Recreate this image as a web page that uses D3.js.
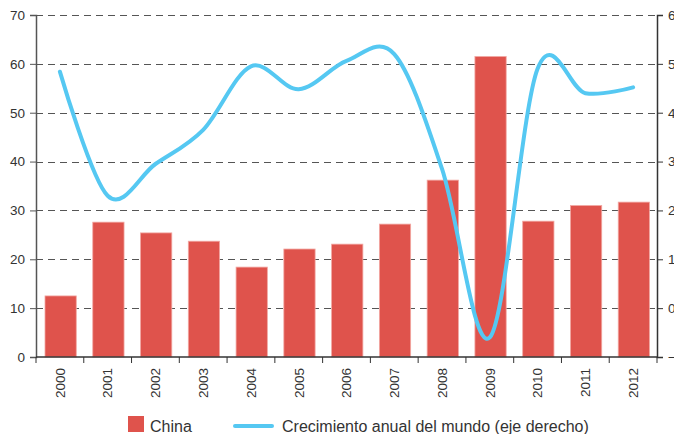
<!DOCTYPE html>
<html>
<head>
<meta charset="utf-8">
<script src="https://cdn.jsdelivr.net/npm/d3@7"></script>
<style>
  body { margin: 0; background: #fff; }
  svg { display: block; font-family: "Liberation Sans", Arial, sans-serif; }
</style>
</head>
<body>
<div id="chart"></div>
<script>
// Chart data
const years = ['2000', '2001', '2002', '2003', '2004', '2005', '2006',
  '2007', '2008', '2009', '2010', '2011', '2012'];
const chinaValues = [12.5, 27.6, 25.4, 23.7, 18.4, 22.1, 23.1, 27.2, 36.2, 61.5, 27.8, 31.0, 31.7];
const worldGrowth = [4.84, 2.3, 2.95, 3.65, 4.95, 4.48, 5.06, 5.2, 2.85, -0.6, 4.9, 4.4, 4.52];
const leftTicks = [0, 10, 20, 30, 40, 50, 60, 70];
const rightTicks = [-1, 0, 1, 2, 3, 4, 5, 6];
const legendLabels = ['China', 'Crecimiento anual del mundo (eje derecho)'];

const width = 674, height = 434;
const margin = { top: 15, right: 17, bottom: 77, left: 36 };
const innerW = width - margin.left - margin.right;
const innerH = height - margin.top - margin.bottom;

const svg = d3.select('#chart').append('svg')
  .attr('width', width)
  .attr('height', height);
const g = svg.append('g')
  .attr('transform', `translate(${margin.left},${margin.top})`);

// Scales
const x = d3.scaleBand().domain(years).range([0, innerW]).padding(0);
const yLeft = d3.scaleLinear().domain([0, 70]).range([innerH, 0]);
const yRight = d3.scaleLinear().domain([-1, 6]).range([innerH, 0]);

// Dashed gridlines
g.append('g')
  .selectAll('line')
  .data(leftTicks.slice(1))
  .join('line')
  .attr('x1', 0)
  .attr('x2', innerW)
  .attr('y1', d => Math.round(yLeft(d)) + 0.5)
  .attr('y2', d => Math.round(yLeft(d)) + 0.5)
  .attr('stroke', '#555')
  .attr('stroke-width', 1)
  .attr('stroke-dasharray', '7,5');

// Bars
const barPadL = 9, barPadR = 7.5;
g.append('g')
  .selectAll('rect')
  .data(chinaValues)
  .join('rect')
  .attr('x', (d, i) => x(years[i]) + barPadL)
  .attr('width', x.bandwidth() - barPadL - barPadR)
  .attr('y', d => yLeft(d))
  .attr('height', d => innerH - yLeft(d))
  .attr('fill', '#df534c')
  .attr('stroke', '#f2a7a2')
  .attr('stroke-width', 0.8);

// Line on right axis
const line = d3.line()
  .x((d, i) => x(years[i]) + x.bandwidth() / 2)
  .y(d => yRight(d))
  .curve(d3.curveCatmullRom.alpha(0));

g.append('path')
  .datum(worldGrowth)
  .attr('d', line)
  .attr('fill', 'none')
  .attr('stroke', '#55c8f2')
  .attr('stroke-width', 4)
  .attr('stroke-linecap', 'round');

// Left axis
const leftAxis = g.append('g')
  .call(d3.axisLeft(yLeft).tickValues(leftTicks).tickSize(6).tickPadding(5));
leftAxis.select('.domain').attr('stroke', '#555').attr('stroke-width', 1.5);
leftAxis.selectAll('.tick line').attr('stroke', '#555');
leftAxis.selectAll('text').attr('font-size', 13.5).attr('fill', '#333');

// Right axis (labels run off the right edge, as in the source)
const rightAxis = g.append('g')
  .attr('transform', `translate(${innerW},0)`)
  .call(d3.axisRight(yRight).tickValues(rightTicks).tickSize(6).tickPadding(5));
rightAxis.select('.domain').attr('stroke', '#333').attr('stroke-width', 1.5);
rightAxis.selectAll('.tick line').attr('stroke', '#333');
rightAxis.selectAll('text').attr('font-size', 13.5).attr('fill', '#333');

// Bottom axis: ticks at category boundaries
const bottom = g.append('g').attr('transform', `translate(0,${innerH})`);
bottom.append('line')
  .attr('x1', 0).attr('x2', innerW)
  .attr('stroke', '#333').attr('stroke-width', 1.5);
bottom.selectAll('.bound')
  .data(years.concat(['end']))
  .join('line')
  .attr('class', 'bound')
  .attr('x1', (d, i) => i * x.step())
  .attr('x2', (d, i) => i * x.step())
  .attr('y1', 0).attr('y2', 6)
  .attr('stroke', '#333');
bottom.selectAll('text')
  .data(years)
  .join('text')
  .attr('transform', d => `translate(${x(d) + x.bandwidth() / 2 + 4.8},11) rotate(-90)`)
  .attr('text-anchor', 'end')
  .attr('font-size', 13.5)
  .attr('fill', '#333')
  .text(d => d);

// Legend
const legend = svg.append('g');
legend.append('rect')
  .attr('x', 128).attr('y', 416)
  .attr('width', 16).attr('height', 16)
  .attr('fill', '#df534c');
legend.append('text')
  .attr('x', 150).attr('y', 432)
  .attr('font-size', 16).attr('fill', '#333')
  .text(legendLabels[0]);
legend.append('line')
  .attr('x1', 235).attr('x2', 272)
  .attr('y1', 426).attr('y2', 426)
  .attr('stroke', '#55c8f2').attr('stroke-width', 4)
  .attr('stroke-linecap', 'round');
legend.append('text')
  .attr('x', 282).attr('y', 432)
  .attr('font-size', 16).attr('fill', '#333')
  .text(legendLabels[1]);
</script>
</body>
</html>
